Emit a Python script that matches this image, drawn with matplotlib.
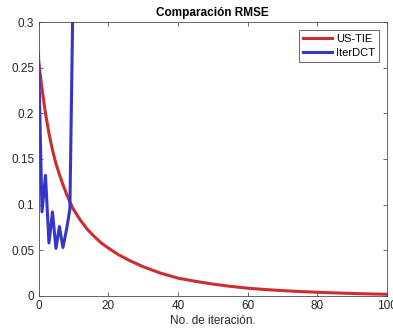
import numpy as np
import matplotlib.pyplot as plt
import matplotlib as mpl

# RMSE per iteration for the two reconstruction methods
iter_ustie = [0, 1, 2, 3, 4, 5, 6, 7, 8, 9, 10, 12, 14, 16, 18, 20, 23, 26, 30, 35,
              40, 45, 50, 55, 60, 65, 70, 75, 80, 85, 90, 95, 100]
rmse_ustie = [0.258, 0.227, 0.200, 0.178, 0.160, 0.145, 0.133, 0.122, 0.112, 0.103,
              0.095, 0.083, 0.073, 0.065, 0.058, 0.0525, 0.045, 0.039, 0.032, 0.025,
              0.0195, 0.016, 0.013, 0.0105, 0.0085, 0.007, 0.0058, 0.0048, 0.004,
              0.0033, 0.0027, 0.0022, 0.0018]

iter_dct = [0, 1, 2, 3, 4, 5, 6, 7, 8, 9, 10, 11, 12]
rmse_dct = [0.265, 0.092, 0.132, 0.058, 0.092, 0.052, 0.076, 0.053, 0.072, 0.095, 0.36, 0.6, 1.0]

mpl.rcParams['font.family'] = ['Liberation Sans', 'DejaVu Sans']
mpl.rcParams['font.size'] = 8
axcol = '#4d4d4d'

fig = plt.figure(figsize=(3.93, 3.34), dpi=100)
ax = fig.add_axes([0.098, 0.114, 0.887, 0.820])

ax.plot(iter_ustie, rmse_ustie, color='#cc2e2e', lw=2.2, label='US-TIE')
ax.plot(iter_dct, rmse_dct, color='#3535cc', lw=2.2, label='IterDCT')

ax.set_xlim(0, 100)
ax.set_ylim(0, 0.3)
ax.set_xticks(np.arange(0, 101, 20))
ax.set_yticks([0, 0.05, 0.1, 0.15, 0.2, 0.25, 0.3])
ax.set_yticklabels(['0', '0.05', '0.1', '0.15', '0.2', '0.25', '0.3'])
ax.tick_params(direction='in', length=3, width=0.6, top=True, right=True,
               colors=axcol, labelcolor='#262626', labelsize=8.5, pad=3)
for s in ax.spines.values():
    s.set_color(axcol)
    s.set_linewidth(0.6)

ax.set_title('Comparación RMSE', fontsize=8.5, fontweight='bold', color='black', pad=4)
ax.set_xlabel('No. de iteración.', fontsize=8.5, color='#262626', labelpad=2)

leg = ax.legend(loc='upper right', fontsize=8, handlelength=2.6, handletextpad=0.35,
                borderaxespad=0.7, borderpad=0.4, labelspacing=0.3, fancybox=False,
                framealpha=1)
leg.get_frame().set_edgecolor(axcol)
leg.get_frame().set_linewidth(0.6)

fig.savefig('out.png', dpi=100)
